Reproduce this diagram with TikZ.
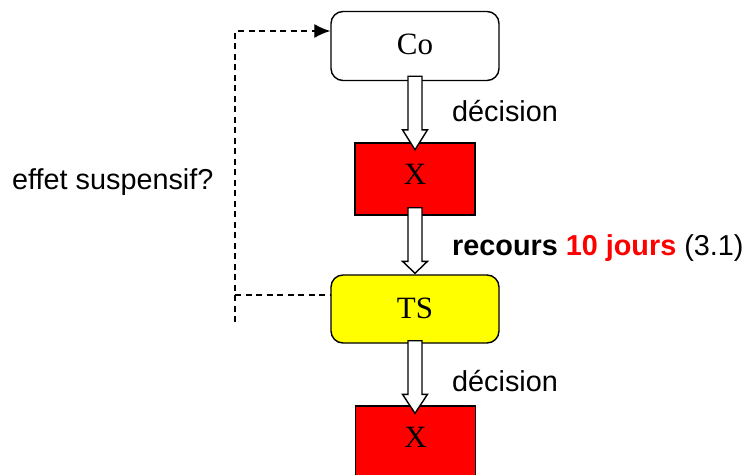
\documentclass[tikz,border=0pt]{standalone}
\usepackage{fontspec}
\setmainfont{Liberation Serif}
\newfontfamily\arialf{Liberation Sans}
\usetikzlibrary{arrows.meta,calc}
\definecolor{boxred}{RGB}{255,0,0}
\definecolor{boxyellow}{RGB}{255,255,0}
\newcommand\blockarrow[5]{%
  \draw[barrow] let \p1=(#1.south), \p2=(#2.north) in
    (\x1-7pt,\y1+#3pt) -- (\x1-7pt,\y2-#4pt+#5pt) -- (\x1-12.5pt,\y2-#4pt+#5pt)
    -- (\x1,\y2-#4pt) -- (\x1+12.5pt,\y2-#4pt+#5pt) -- (\x1+7pt,\y2-#4pt+#5pt)
    -- (\x1+7pt,\y1+#3pt) -- cycle;}
\begin{document}
\begin{tikzpicture}[x=1pt,y=-1pt,
  box/.style={draw=black,line width=1.4pt,inner sep=0pt,
    font=\fontsize{31}{31}\selectfont,text height=21pt},
  rbox/.style={box,rounded corners=12pt,minimum width=168pt,fill=white},
  sbox/.style={box,minimum width=120pt,minimum height=72pt,fill=boxred,text depth=11pt},
  barrow/.style={draw=black,line width=1.4pt,fill=white,line join=miter},
  dline/.style={line width=1.3pt,dash pattern=on 6pt off 4.5pt},
  lab/.style={inner sep=0pt,font=\arialf\fontsize{28.8}{28.8}\selectfont}]
\useasboundingbox (0,0) rectangle (752,474);
% boxes
\node[rbox,minimum height=69pt,text depth=4pt] (co) at (415,46) {Co};
\node[sbox] (x1) at (415,179) {X};
\node[rbox,fill=boxyellow,minimum height=68pt,text depth=3pt] (ts) at (415,309) {TS};
\node[sbox] (x2) at (415.5,442) {X};
% block arrows
\blockarrow{co}{x1}{5}{7.5}{20}
\blockarrow{x1}{ts}{8}{-1}{12}
\blockarrow{ts}{x2}{3}{8}{19}
% dashed feedback
\coordinate (dtop) at (235,31);
\coordinate (dmid) at (235,295);
\coordinate (dbot) at (235,322);
\draw[dline,-{Latex[length=16pt,width=14pt]}] (dbot) -- (dtop) -- (co.west |- dtop);
\draw[dline] (dmid) -- (ts.west |- dmid);
% labels
\node[lab,anchor=base west] (d1) at (452,121) {décision};
\node[lab,anchor=base west] (eff) at (12,189) {effet suspensif?};
\node[lab,anchor=base west] (rec) at (452,255) {\bfseries recours \textcolor{boxred}{10 jours}\mdseries{} (3.1)};
\node[lab,anchor=base west] (d2) at (452,391) {décision};
\end{tikzpicture}
\end{document}
